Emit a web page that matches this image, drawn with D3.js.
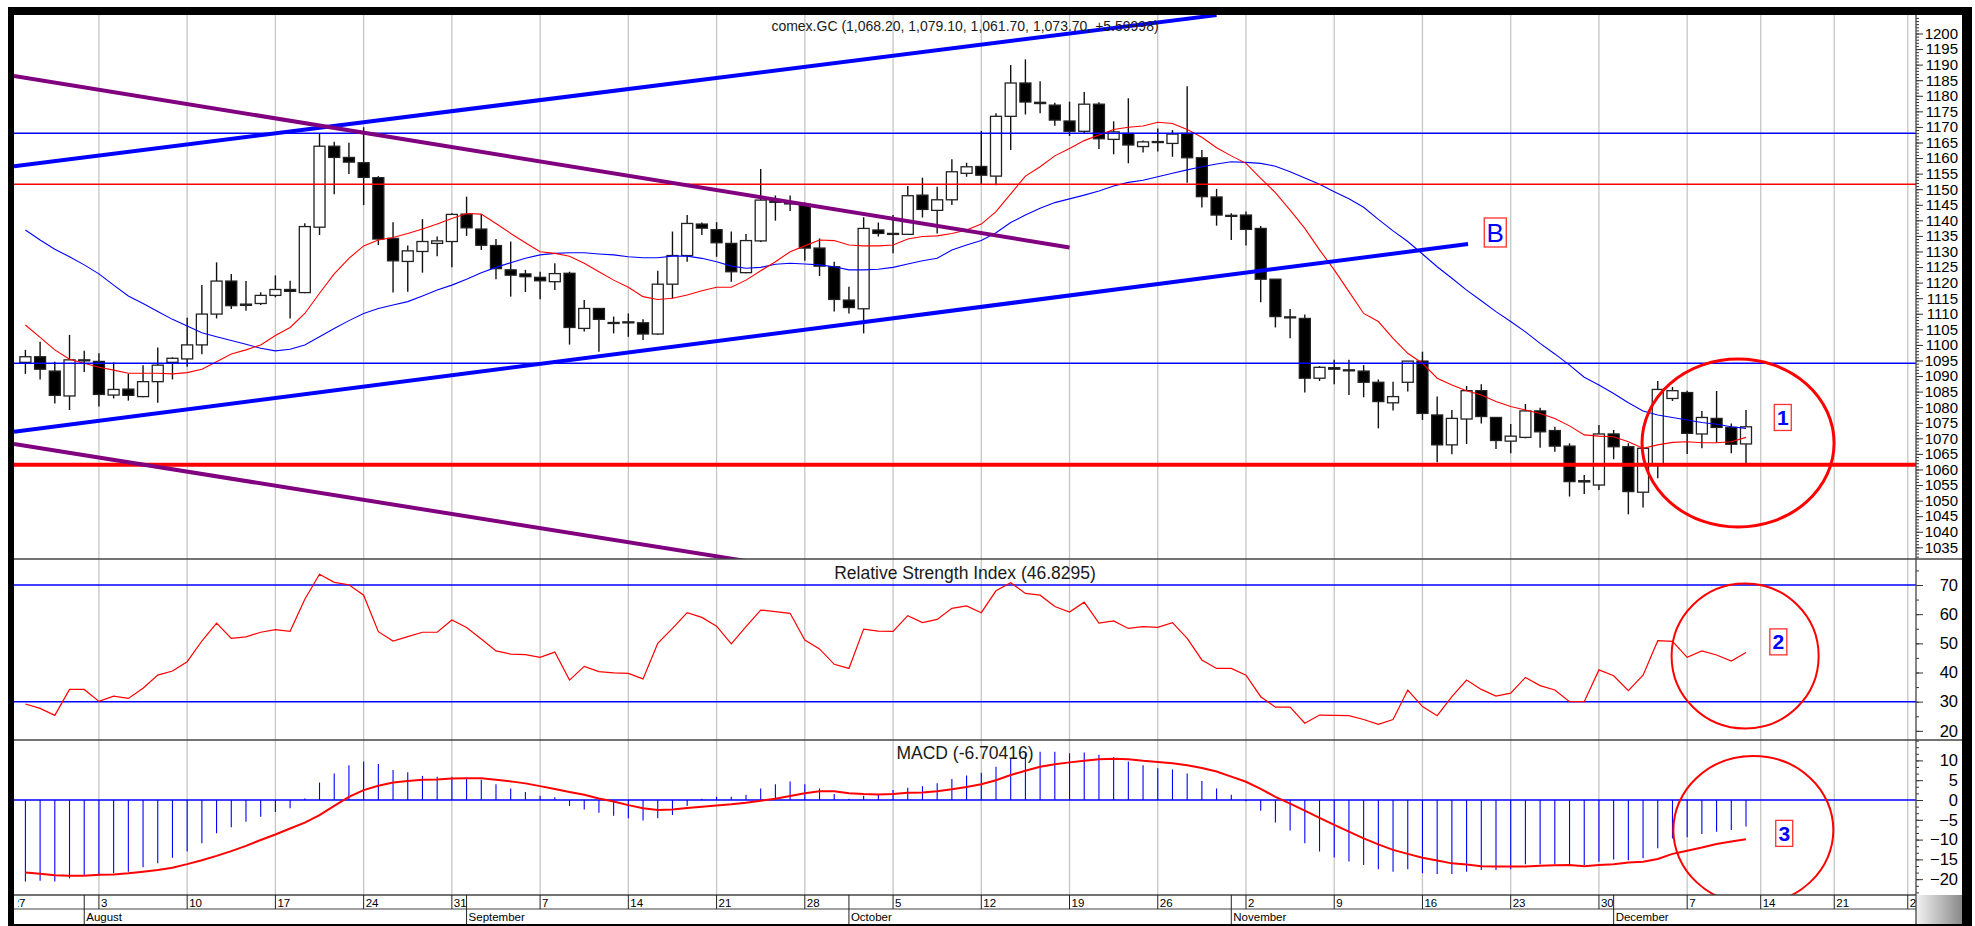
<!DOCTYPE html>
<html>
<head>
<meta charset="utf-8">
<script src="https://cdn.jsdelivr.net/npm/d3@7"></script>
<style>
  body { margin: 0; background: #fff; }
  svg { display: block; font-family: "Liberation Sans", Arial, sans-serif; }
</style>
</head>
<body>
<svg id="chart" width="1975" height="926"></svg>
<script>
// comex.GC daily bars, 28 Jul - 11 Dec 2015 (Sun-Fri sessions, index 0..117)
const open = [
  1094.4, 1096.2, 1091.6, 1083.6, 1095.2, 1094.7, 1083.9, 1085.8, 1083.4, 1088.2,
  1094.4, 1095.5, 1100.0, 1109.9, 1120.5, 1113.1, 1113.3, 1115.9, 1117.8, 1116.8,
  1137.8, 1163.8, 1160.2, 1158.5, 1153.7, 1134.2, 1126.8, 1130.0, 1132.6, 1133.2,
  1142.0, 1137.2, 1131.9, 1124.1, 1122.8, 1121.7, 1120.3, 1123.0, 1105.3, 1111.7,
  1107.2, 1107.4, 1107.1, 1103.5, 1119.5, 1128.7, 1138.8, 1137.0, 1132.6, 1123.2,
  1133.4, 1146.3, 1145.6, 1145.2, 1131.1, 1125.1, 1114.4, 1111.6, 1136.9, 1135.8,
  1135.5, 1148.1, 1143.2, 1146.6, 1155.1, 1157.3, 1154.2, 1173.4, 1184.1, 1177.9,
  1177.0, 1171.9, 1168.6, 1177.3, 1166.0, 1167.9, 1163.7, 1165.3, 1164.7, 1167.9,
  1160.1, 1147.5, 1141.6, 1141.7, 1137.4, 1121.1, 1109.0, 1108.5, 1089.3, 1092.7,
  1092.0, 1091.6, 1088.0, 1081.4, 1088.0, 1094.8, 1077.5, 1067.9, 1076.2, 1085.3,
  1076.7, 1069.1, 1070.3, 1078.8, 1072.5, 1067.5, 1056.4, 1055.0, 1071.4, 1067.3,
  1052.7, 1061.6, 1082.8, 1084.7, 1071.4, 1076.4, 1073.5, 1068.2
];
const high = [
  1098.4, 1101.0, 1094.6, 1103.2, 1098.1, 1097.3, 1094.4, 1090.7, 1093.5, 1099.2,
  1096.0, 1108.7, 1119.2, 1126.5, 1122.8, 1120.5, 1116.9, 1122.3, 1120.6, 1139.1,
  1167.7, 1165.2, 1164.9, 1169.9, 1154.2, 1139.4, 1131.9, 1140.4, 1134.8, 1142.3,
  1147.6, 1142.0, 1134.0, 1133.2, 1124.1, 1123.5, 1126.2, 1123.5, 1114.4, 1111.7,
  1109.1, 1110.1, 1108.2, 1123.8, 1136.4, 1141.7, 1139.3, 1139.4, 1136.4, 1135.6,
  1156.5, 1148.0, 1148.0, 1145.8, 1134.2, 1126.7, 1118.7, 1141.0, 1139.3, 1141.7,
  1151.0, 1153.7, 1150.8, 1159.6, 1158.5, 1168.7, 1174.4, 1189.9, 1191.7, 1184.7,
  1177.8, 1178.1, 1181.2, 1177.9, 1171.8, 1179.2, 1165.6, 1169.5, 1169.0, 1183.1,
  1162.6, 1150.1, 1142.3, 1142.8, 1138.2, 1121.1, 1111.5, 1109.8, 1093.2, 1095.2,
  1095.2, 1093.5, 1088.9, 1088.2, 1094.8, 1097.8, 1083.4, 1079.1, 1086.8, 1087.4,
  1076.7, 1074.6, 1081.0, 1079.8, 1073.7, 1068.4, 1058.2, 1074.3, 1072.7, 1068.4,
  1067.0, 1088.4, 1086.5, 1085.3, 1078.8, 1085.2, 1074.8, 1079.1
];
const low = [
  1090.7, 1088.9, 1081.2, 1079.1, 1091.3, 1080.2, 1082.8, 1082.1, 1083.2, 1081.4,
  1088.9, 1093.0, 1097.0, 1108.5, 1111.5, 1111.0, 1112.8, 1115.3, 1108.5, 1116.6,
  1135.3, 1148.4, 1154.9, 1144.9, 1132.1, 1116.8, 1117.1, 1123.2, 1128.5, 1124.9,
  1135.0, 1130.5, 1121.1, 1115.5, 1117.0, 1114.7, 1117.6, 1100.1, 1104.3, 1097.8,
  1103.7, 1102.6, 1101.6, 1103.2, 1115.0, 1126.7, 1135.3, 1128.3, 1120.3, 1123.0,
  1133.0, 1139.9, 1143.0, 1127.0, 1122.1, 1110.7, 1110.1, 1103.7, 1134.8, 1129.4,
  1135.3, 1140.9, 1135.8, 1144.9, 1154.0, 1151.7, 1151.3, 1162.6, 1174.0, 1174.4,
  1170.4, 1167.1, 1167.9, 1162.9, 1161.2, 1158.3, 1161.8, 1162.1, 1160.4, 1152.1,
  1144.1, 1138.3, 1133.7, 1131.9, 1113.7, 1105.6, 1102.1, 1084.7, 1088.4, 1087.4,
  1083.9, 1083.2, 1073.2, 1078.9, 1085.0, 1075.9, 1062.3, 1064.9, 1068.2, 1074.8,
  1066.6, 1065.2, 1070.0, 1067.0, 1065.7, 1051.3, 1052.1, 1053.4, 1063.3, 1045.6,
  1047.8, 1057.2, 1082.0, 1065.0, 1066.8, 1068.6, 1065.2, 1061.7
];
const close = [
  1096.2, 1092.2, 1083.8, 1095.2, 1095.1, 1084.1, 1085.7, 1083.8, 1088.2, 1093.5,
  1095.7, 1100.0, 1109.9, 1120.5, 1112.6, 1112.7, 1115.9, 1117.8, 1117.2, 1138.0,
  1163.8, 1160.2, 1158.7, 1153.8, 1134.0, 1127.0, 1130.2, 1133.2, 1133.4, 1141.9,
  1137.6, 1132.0, 1124.5, 1122.4, 1121.9, 1120.6, 1122.9, 1105.6, 1111.7, 1108.2,
  1107.2, 1107.1, 1103.5, 1119.5, 1128.7, 1139.0, 1137.5, 1132.8, 1123.5, 1133.5,
  1146.5, 1145.8, 1145.4, 1131.1, 1125.3, 1114.6, 1112.0, 1137.4, 1135.8, 1135.5,
  1147.9, 1143.5, 1146.6, 1155.6, 1157.2, 1154.5, 1173.4, 1184.1, 1178.0, 1177.5,
  1172.2, 1168.6, 1177.3, 1166.2, 1168.4, 1164.2, 1165.2, 1165.2, 1167.7, 1160.1,
  1147.6, 1141.7, 1141.4, 1137.1, 1121.1, 1109.1, 1108.7, 1089.3, 1092.8, 1092.2,
  1091.8, 1088.0, 1081.8, 1083.4, 1094.8, 1078.0, 1067.9, 1076.4, 1085.3, 1077.0,
  1069.3, 1070.7, 1078.8, 1072.1, 1067.5, 1056.1, 1056.0, 1071.4, 1067.3, 1052.9,
  1066.8, 1085.7, 1085.3, 1071.6, 1076.7, 1073.5, 1068.1, 1073.7
];

// moving averages (red = fast, blue = slow)
const maFast = [
  1106.4, 1102.4, 1098.4, 1095.4, 1094.1, 1092.8, 1091.9, 1090.9, 1090.9, 1090.9,
  1090.7, 1091.1, 1092.2, 1094.6, 1097.1, 1098.4, 1100.0, 1103.0, 1105.6, 1110.1,
  1116.6, 1122.8, 1127.8, 1131.8, 1133.7, 1134.5, 1135.8, 1137.2, 1138.8, 1140.6,
  1142.2, 1142.0, 1139.0, 1135.8, 1132.8, 1129.9, 1129.4, 1128.5, 1126.2, 1123.5,
  1120.8, 1118.5, 1115.5, 1114.6, 1115.0, 1116.0, 1117.4, 1118.5, 1118.5, 1120.8,
  1123.8, 1126.7, 1129.9, 1131.8, 1133.7, 1133.5, 1132.1, 1131.8, 1131.8, 1132.1,
  1134.0, 1134.8, 1135.0, 1135.8, 1136.9, 1138.8, 1142.8, 1148.5, 1154.2, 1157.2,
  1160.7, 1163.1, 1165.6, 1167.4, 1169.2, 1169.9, 1170.3, 1171.5, 1171.1, 1169.2,
  1166.7, 1163.3, 1160.7, 1158.3, 1153.5, 1148.9, 1143.3, 1137.4, 1130.5, 1124.1,
  1117.1, 1110.1, 1107.5, 1102.1, 1097.3, 1094.1, 1089.3, 1087.1, 1085.3, 1083.9,
  1081.8, 1080.2, 1079.1, 1078.0, 1076.4, 1074.0, 1071.1, 1070.7, 1070.5, 1068.9,
  1066.8, 1067.9, 1068.7, 1068.9, 1068.6, 1068.6, 1068.9, 1070.3
];
const maSlow = [
  1136.9, 1133.7, 1130.7, 1128.3, 1125.7, 1122.8, 1119.2, 1115.7, 1113.3, 1110.7,
  1108.2, 1106.1, 1103.9, 1102.6, 1101.4, 1100.2, 1098.9, 1098.1, 1098.6, 1100.0,
  1102.6, 1105.3, 1107.8, 1110.1, 1111.7, 1112.8, 1113.9, 1115.7, 1117.6, 1119.2,
  1121.1, 1123.2, 1124.9, 1126.4, 1127.8, 1128.9, 1129.4, 1129.6, 1129.6, 1129.2,
  1128.9, 1128.3, 1128.0, 1128.0, 1128.5, 1128.5, 1127.8, 1126.7, 1125.3, 1124.6,
  1124.9, 1125.9, 1126.2, 1126.0, 1125.7, 1125.1, 1124.1, 1124.1, 1124.3, 1124.9,
  1126.0, 1127.0, 1127.8, 1130.5, 1132.1, 1133.5, 1136.0, 1139.3, 1141.7, 1143.9,
  1145.7, 1146.9, 1148.1, 1149.4, 1151.0, 1152.2, 1152.9, 1154.0, 1155.1, 1156.2,
  1157.2, 1158.1, 1158.8, 1158.6, 1158.3, 1157.4, 1155.6, 1153.6, 1151.6, 1149.2,
  1146.9, 1144.2, 1140.3, 1136.6, 1133.2, 1129.2, 1125.1, 1121.4, 1117.6, 1114.2,
  1110.7, 1107.5, 1104.2, 1100.5, 1097.1, 1093.5, 1089.6, 1087.1, 1084.4, 1081.4,
  1078.8, 1077.5, 1076.7, 1075.9, 1075.1, 1074.5, 1073.7, 1073.2
];

const rsi = [
  29.2, 27.7, 25.3, 34.2, 34.2, 30.1, 31.9, 31.1, 34.6, 39.1,
  40.5, 43.7, 50.8, 56.9, 51.7, 52.2, 53.8, 54.7, 54.1, 65.1,
  73.7, 70.9, 70.1, 66.5, 54.0, 50.8, 52.3, 53.8, 53.8, 58.0,
  55.4, 51.5, 47.4, 46.3, 46.1, 45.2, 47.0, 37.4, 42.1, 40.3,
  39.9, 39.7, 37.8, 50.0, 55.1, 60.5, 58.9, 55.9, 49.8, 55.7,
  61.4, 60.9, 60.3, 51.1, 48.1, 42.8, 41.4, 54.9, 54.2, 54.1,
  59.5, 57.1, 58.2, 62.0, 62.8, 60.5, 68.0, 70.8, 67.1, 66.5,
  62.6, 60.7, 64.1, 56.9, 57.7, 55.1, 55.7, 55.5, 57.1, 51.7,
  44.3, 41.4, 41.4, 39.1, 31.7, 28.1, 28.1, 22.6, 25.4, 25.3,
  25.2, 23.9, 22.2, 23.9, 34.0, 28.3, 25.2, 31.7, 37.4, 34.2,
  31.9, 32.9, 38.3, 35.5, 34.0, 30.0, 30.0, 40.9, 38.9, 33.8,
  39.1, 50.9, 50.7, 45.2, 47.4, 46.0, 43.9, 46.8295
];

const macd = [
  -20.6, -20.4, -20.6, -19.8, -19.2, -19.2, -18.5, -18.1, -17.0, -16.0,
  -14.6, -13.0, -10.9, -8.4, -6.9, -5.5, -4.2, -3.0, -2.1, 0.4,
  4.4, 6.7, 8.8, 9.7, 9.1, 7.6, 7.0, 6.1, 5.9, 5.9,
  5.7, 5.1, 4.0, 2.9, 2.0, 1.1, 0.7, -1.5, -2.4, -3.2,
  -4.0, -4.6, -5.2, -4.6, -3.8, -1.5, 0.3, 0.8, 0.8, 1.3,
  2.9, 4.0, 4.7, 4.0, 2.9, 1.5, 0.3, 1.1, 1.3, 2.5,
  3.1, 3.5, 4.2, 5.3, 6.2, 6.9, 8.4, 10.5, 11.8, 12.2,
  12.2, 11.8, 12.0, 11.4, 10.8, 9.7, 8.8, 8.0, 7.7, 6.7,
  4.8, 2.9, 1.3, -0.3, -2.7, -5.7, -7.7, -10.9, -13.0, -14.5,
  -15.5, -16.4, -17.5, -18.1, -17.5, -18.5, -18.7, -18.7, -18.1, -17.7,
  -17.7, -17.5, -16.2, -16.2, -16.2, -16.4, -16.4, -15.6, -15.0, -15.2,
  -14.7, -12.2, -9.7, -9.4, -8.6, -8.0, -7.6, -6.70416
];
const signal = [
  -18.3, -18.6, -19.0, -19.1, -19.1, -18.9, -18.8, -18.5, -18.1, -17.7,
  -17.1, -16.2, -15.2, -14.1, -12.9, -11.6, -10.1, -8.7, -7.2, -5.7,
  -3.8, -1.5, 0.8, 2.5, 3.6, 4.4, 4.8, 5.1, 5.2, 5.4,
  5.5, 5.5, 5.1, 4.7, 4.2, 3.5, 2.8, 2.0, 1.3, 0.4,
  -0.4, -1.3, -2.1, -2.5, -2.4, -2.0, -1.7, -1.4, -1.1, -0.7,
  -0.2, 0.3, 1.0, 1.7, 2.2, 2.2, 1.7, 1.5, 1.4, 1.5,
  1.8, 1.9, 2.2, 2.7, 3.3, 4.0, 5.0, 6.3, 7.4, 8.4,
  9.0, 9.5, 9.9, 10.3, 10.4, 10.3, 9.9, 9.6, 9.3, 8.8,
  8.1, 7.2, 5.9, 4.6, 2.8, 0.8, -0.9, -2.7, -4.5, -6.3,
  -8.0, -9.7, -11.2, -12.6, -13.6, -14.6, -15.3, -16.0, -16.3, -16.7,
  -16.8, -16.8, -16.8, -16.6, -16.5, -16.4, -16.7, -16.4, -16.2, -15.8,
  -15.6, -14.9, -13.6, -12.8, -12.0, -11.1, -10.5, -9.9
];

// x axis: mondays (bar index) and first session of each month
const weekIdx = [-1, 5, 11, 17, 23, 29, 35, 41, 47, 53, 59, 65, 71, 77, 83, 89, 95, 101, 107, 113, 118, 123, 128];
const weekDay = [27, 3, 10, 17, 24, 31, 7, 14, 21, 28, 5, 12, 19, 26, 2, 9, 16, 23, 30, 7, 14, 21, 28];
const monthIdx = [4, 30, 56, 82, 108];
const monthName = ['August', 'September', 'October', 'November', 'December'];

const priceTicks = d3.range(1035, 1201, 5);
const rsiTicks = [20, 30, 40, 50, 60, 70];
const macdTicks = [-20, -15, -10, -5, 0, 5, 10];

// drawn levels and trend lines [i0, p0, i1, p1]
const hLevels = [1168.0, 1151.6, 1094.1, 1061.5];
const trendLines = [
  [-0.775, 1157.4, 81.0, 1205.9],
  [-0.775, 1072.1, 98.1, 1132.4],
  [-0.775, 1186.4, 71.0, 1131.3],
  [-0.775, 1068.2, 60.0, 1022.3]
];
const rsiLevels = [70, 30];

const titleText = 'comex.GC (1,068.20, 1,079.10, 1,061.70, 1,073.70, +5.59998)';
const rsiText = 'Relative Strength Index (46.8295)';
const macdText = 'MACD (-6.70416)';

// annotations, in data units
const rings = [
  {panel: 'price', i: 116.46, v: 1068.5, ri: 6.53, rv: 27.0, w: 3},
  {panel: 'rsi', i: 116.94, v: 45.66, ri: 5.0, rv: 24.85, w: 2},
  {panel: 'macd', i: 117.5, v: -7.58, ri: 5.44, rv: 18.7, w: 2}
];
const tags = [
  {panel: 'price', text: 'B', i: 99.95, v: 1136.1, bold: false},
  {panel: 'price', text: '1', i: 119.5, v: 1076.7, bold: true},
  {panel: 'rsi', text: '2', i: 119.2, v: 50.5, bold: true},
  {panel: 'macd', text: '3', i: 119.6, v: -8.43, bold: true}
];

// ------------------------------------------------------------------
const svg = d3.select('#chart');
const L = 14, R = 1916, AX_R = 1962;

const x = d3.scaleLinear().domain([-0.775, 128.56]).range([L, R]);
const yP = d3.scaleLinear().domain([1031.25, 1205.94]).range([559, 15]);
const yR = d3.scaleLinear().domain([16.86, 78.91]).range([740, 559]);
const yM = d3.scaleLinear().domain([-23.99, 15.15]).range([895, 740]);
const yOf = {price: yP, rsi: yR, macd: yM};

// frame
svg.append('rect').attr('x', 8).attr('y', 7).attr('width', 1964).attr('height', 919).attr('fill', '#000');
svg.append('rect').attr('x', 14).attr('y', 15).attr('width', 1948).attr('height', 909).attr('fill', '#fff');

const defs = svg.append('defs');
function clip(id, y0, y1, x0 = L, x1 = R) {
  defs.append('clipPath').attr('id', id)
    .append('rect').attr('x', x0).attr('y', y0).attr('width', x1 - x0).attr('height', y1 - y0);
  return `url(#${id})`;
}
const clipPrice = clip('cp', 15, 559);
const clipRsi = clip('cr', 559, 740);
const clipMacd = clip('cm', 740, 895);
const clipAll = clip('ca', 15, 895);
const clipDate = clip('cd', 895, 924, 18, R);
const clipOf = {price: clipPrice, rsi: clipRsi, macd: clipMacd};

const grad = defs.append('linearGradient').attr('id', 'shade').attr('x1', 0).attr('x2', 1);
grad.append('stop').attr('offset', 0).attr('stop-color', '#f2f2f2');
grad.append('stop').attr('offset', 1).attr('stop-color', '#8a8a8a');
svg.append('rect').attr('x', R).attr('y', 895).attr('width', AX_R - R).attr('height', 29).attr('fill', 'url(#shade)');

// week gridlines
svg.append('g').attr('clip-path', clipAll)
  .selectAll('line').data(weekIdx).join('line')
  .attr('x1', d => x(d)).attr('x2', d => x(d))
  .attr('y1', 15).attr('y2', 895)
  .attr('stroke', '#c6c6c6').attr('stroke-width', 1.3);

// ---------------- price panel ----------------
const gp = svg.append('g').attr('clip-path', clipPrice);
const bars = d3.range(open.length);

gp.append('g').selectAll('line').data(bars).join('line')
  .attr('x1', i => x(i)).attr('x2', i => x(i))
  .attr('y1', i => yP(high[i])).attr('y2', i => yP(low[i]))
  .attr('stroke', '#111').attr('stroke-width', 1.4);

gp.append('g').selectAll('rect').data(bars).join('rect')
  .attr('x', i => x(i) - 5.5).attr('width', 11)
  .attr('y', i => yP(Math.max(open[i], close[i])))
  .attr('height', i => Math.max(1, yP(Math.min(open[i], close[i])) - yP(Math.max(open[i], close[i]))))
  .attr('fill', i => close[i] >= open[i] ? '#fff' : '#000')
  .attr('stroke', '#222').attr('stroke-width', 1.3);

const maLine = d3.line().x((d, i) => x(i)).y(d => yP(d));
gp.append('path').datum(maSlow).attr('d', maLine).attr('fill', 'none').attr('stroke', '#0000ff').attr('stroke-width', 1.1);
gp.append('path').datum(maFast).attr('d', maLine).attr('fill', 'none').attr('stroke', '#ff0000').attr('stroke-width', 1.1);

const levelColor = ['#0000ff', '#ff0000', '#0000ff', '#ff0000'];
const levelWidth = [1.5, 1.5, 1.5, 4];
gp.append('g').selectAll('line').data(hLevels).join('line')
  .attr('x1', L).attr('x2', R)
  .attr('y1', d => yP(d)).attr('y2', d => yP(d))
  .attr('stroke', (d, k) => levelColor[k]).attr('stroke-width', (d, k) => levelWidth[k]);

const trendColor = ['#0000ff', '#0000ff', '#800080', '#800080'];
gp.append('g').selectAll('line').data(trendLines).join('line')
  .attr('x1', d => x(d[0])).attr('y1', d => yP(d[1]))
  .attr('x2', d => x(d[2])).attr('y2', d => yP(d[3]))
  .attr('stroke', (d, k) => trendColor[k]).attr('stroke-width', 4);

svg.append('text').attr('x', (L + R) / 2).attr('y', 31)
  .attr('text-anchor', 'middle').attr('font-size', 14).attr('fill', '#1a1a1a')
  .text(titleText);

// ---------------- RSI panel ----------------
const gr = svg.append('g').attr('clip-path', clipRsi);
gr.selectAll('line').data(rsiLevels).join('line')
  .attr('x1', L).attr('x2', R)
  .attr('y1', d => yR(d)).attr('y2', d => yR(d))
  .attr('stroke', '#0000ff').attr('stroke-width', 1.5);
gr.append('path').datum(rsi)
  .attr('d', d3.line().x((d, i) => x(i)).y(d => yR(d)))
  .attr('fill', 'none').attr('stroke', '#ff0000').attr('stroke-width', 1.2);
svg.append('text').attr('x', (L + R) / 2).attr('y', 579)
  .attr('text-anchor', 'middle').attr('font-size', 17.5).attr('fill', '#1a1a1a')
  .text(rsiText);

// ---------------- MACD panel ----------------
const gm = svg.append('g').attr('clip-path', clipMacd);
gm.append('line').attr('x1', L).attr('x2', R).attr('y1', yM(0)).attr('y2', yM(0))
  .attr('stroke', '#0000ff').attr('stroke-width', 1.5);
gm.append('g').selectAll('line').data(macd).join('line')
  .attr('x1', (d, i) => x(i)).attr('x2', (d, i) => x(i))
  .attr('y1', yM(0)).attr('y2', d => yM(d))
  .attr('stroke', '#0000ff').attr('stroke-width', 1.1);
gm.append('path').datum(signal)
  .attr('d', d3.line().x((d, i) => x(i)).y(d => yM(d)))
  .attr('fill', 'none').attr('stroke', '#ff0000').attr('stroke-width', 2);
svg.append('text').attr('x', (L + R) / 2).attr('y', 759)
  .attr('text-anchor', 'middle').attr('font-size', 17.5).attr('fill', '#1a1a1a')
  .text(macdText);

// ---------------- annotations ----------------
rings.forEach(r => {
  const y = yOf[r.panel];
  svg.append('ellipse').attr('clip-path', clipOf[r.panel])
    .attr('cx', x(r.i)).attr('cy', y(r.v))
    .attr('rx', x(r.i + r.ri) - x(r.i)).attr('ry', y(r.v - r.rv) - y(r.v))
    .attr('fill', 'none').attr('stroke', '#ff0000').attr('stroke-width', r.w);
});
tags.forEach(t => {
  const y = yOf[t.panel];
  const w = t.bold ? 17 : 22, h = t.bold ? 26 : 29;
  const cx = x(t.i), cy = y(t.v);
  svg.append('rect').attr('x', cx - w / 2).attr('y', cy - h / 2).attr('width', w).attr('height', h)
    .attr('fill', '#fff').attr('stroke', '#ff3030').attr('stroke-width', 1.3);
  svg.append('text').attr('x', cx).attr('y', cy)
    .attr('dy', '0.36em').attr('text-anchor', 'middle')
    .attr('font-size', t.bold ? 21 : 26).attr('font-weight', t.bold ? 'bold' : 'normal')
    .attr('fill', '#0000ff').text(t.text);
});

// ---------------- axes ----------------
// d3.axis sets font-size 10 on its group, so the size is set on the texts afterwards
function rightAxis(scale, major, minor, fmt, size) {
  const g = svg.append('g').attr('transform', `translate(${R},0)`);
  g.append('g').call(d3.axisRight(scale).tickValues(minor).tickSize(3).tickFormat(''))
    .call(s => s.select('.domain').remove());
  g.append('g').call(d3.axisRight(scale).tickValues(major).tickSize(7).tickFormat(fmt))
    .call(s => s.select('.domain').remove())
    .call(s => s.selectAll('text')
      .attr('x', 42).attr('text-anchor', 'end').attr('fill', '#000')
      .style('font-size', size + 'px')
      .style('font-family', '"Liberation Sans", Arial, sans-serif'));
  g.selectAll('line').attr('stroke', '#333');
}
rightAxis(yP, priceTicks, d3.range(1032, 1206, 1), d3.format('d'), 15);
rightAxis(yR, rsiTicks, d3.range(20, 76, 5), d3.format('d'), 16.5);
rightAxis(yM, macdTicks, d3.range(-70, 46, 5).map(d => d / 3), d3.format('d'), 16.5);

// panel borders
svg.append('line').attr('x1', R).attr('x2', R).attr('y1', 15).attr('y2', 924).attr('stroke', '#444').attr('stroke-width', 1.3);
[559, 740].forEach(yy => svg.append('line').attr('x1', L).attr('x2', AX_R).attr('y1', yy).attr('y2', yy)
  .attr('stroke', '#444').attr('stroke-width', 1.5));
svg.append('line').attr('x1', L).attr('x2', R).attr('y1', 895).attr('y2', 895).attr('stroke', '#444').attr('stroke-width', 1.5);
svg.append('line').attr('x1', L).attr('x2', R).attr('y1', 909).attr('y2', 909).attr('stroke', '#444').attr('stroke-width', 1.2);

// date rows
const gd = svg.append('g').attr('clip-path', clipDate).attr('font-size', 11.5).attr('fill', '#000');
gd.selectAll('line.wk').data(weekIdx).join('line').attr('class', 'wk')
  .attr('x1', d => x(d)).attr('x2', d => x(d)).attr('y1', 895).attr('y2', 909)
  .attr('stroke', '#222').attr('stroke-width', 1);
gd.selectAll('text.wk').data(weekIdx).join('text').attr('class', 'wk')
  .attr('x', d => x(d) + 2).attr('y', 907)
  .text((d, k) => weekDay[k]);
gd.selectAll('line.mo').data(monthIdx).join('line').attr('class', 'mo')
  .attr('x1', d => x(d)).attr('x2', d => x(d)).attr('y1', 895).attr('y2', 924)
  .attr('stroke', '#222').attr('stroke-width', 1);
gd.selectAll('text.mo').data(monthIdx).join('text').attr('class', 'mo')
  .attr('x', d => x(d) + 2).attr('y', 920.5)
  .text((d, k) => monthName[k]);
</script>
</body>
</html>
